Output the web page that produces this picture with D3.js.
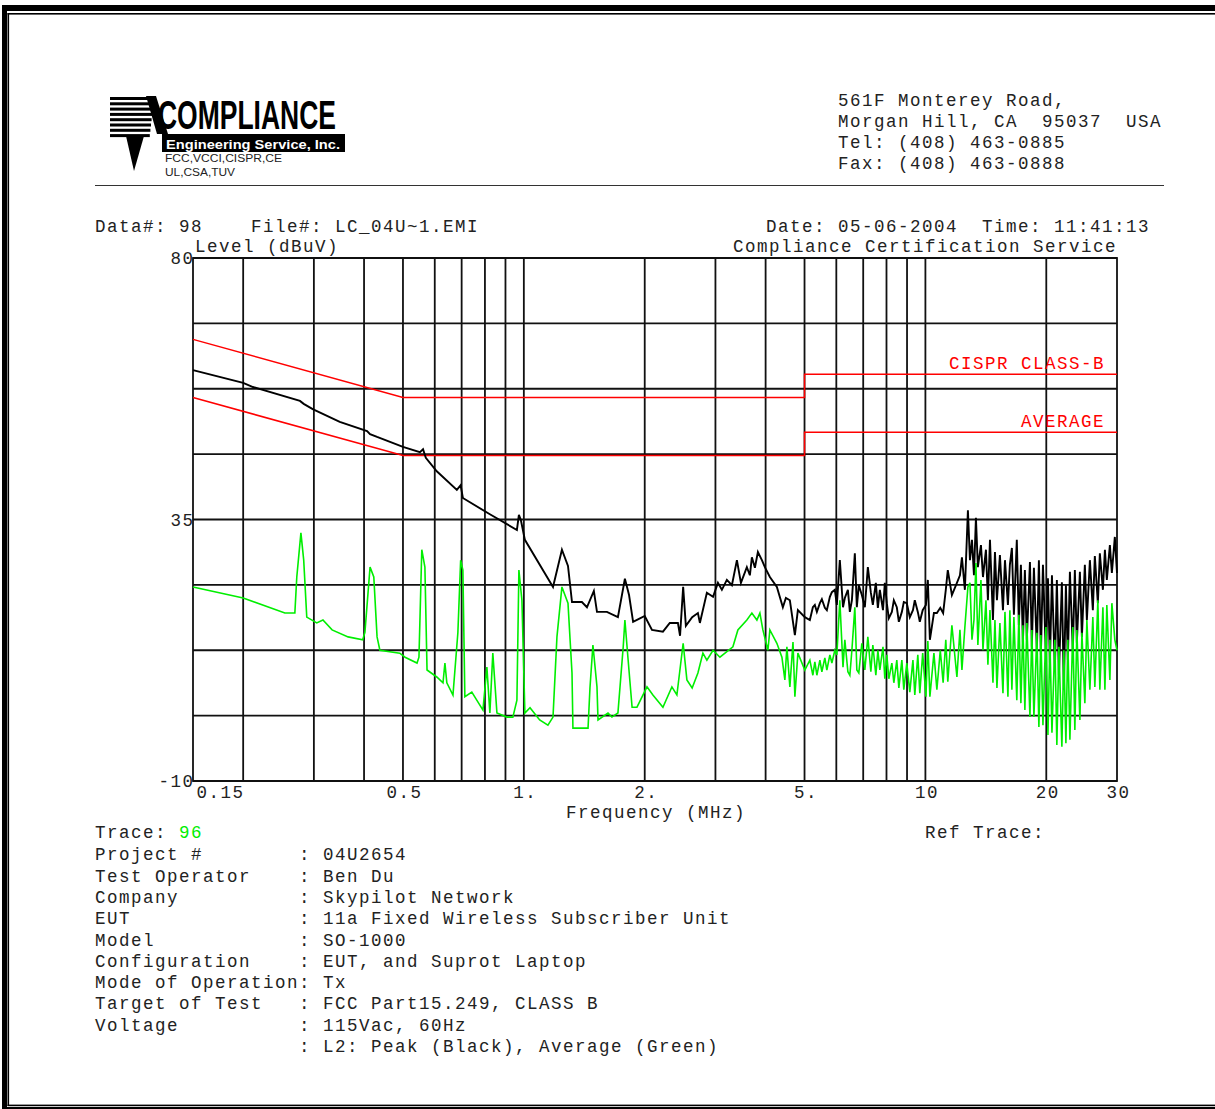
<!DOCTYPE html>
<html><head><meta charset="utf-8">
<script src="https://cdn.jsdelivr.net/npm/d3@7"></script>
<style>html,body{margin:0;padding:0;background:#fff;overflow:hidden}svg{display:block}
.mono{font-family:"Liberation Mono",monospace;font-size:17.5px;letter-spacing:1.5px;white-space:pre;fill:#222}</style>
</head><body><svg id="c" width="1215" height="1109"></svg>
<script>
// ---------------- DATA ----------------
const yTickValues = [80, 35, -10];
const xTickValues = [0.15, 0.5, 1, 2, 5, 10, 20, 30];
const xTickLabels = ["0.15", "0.5", "1.", "2.", "5.", "10", "20", "30"];
const xGridValues = [0.2,0.3,0.4,0.5,0.6,0.7,0.8,0.9,1,2,3,4,5,6,7,8,9,10,20];
const qpLimit  = [[0.15,66],[0.5,56],[5,56],[5,60],[30,60]];
const avgLimit = [[0.15,56],[0.5,46],[5,46],[5,50],[30,50]];
const peakTrace = [[0.150,60.7],[0.200,58.5],[0.2116,57.8],[0.277,55.4],[0.283,54.9],[0.298,54.0],[0.348,51.8],[0.407,50.2],[0.414,49.7],[0.431,49.2],[0.500,47.5],[0.551,46.6],[0.561,47.1],[0.570,45.6],[0.607,43.3],[0.681,40.1],[0.696,40.9],[0.705,38.7],[0.823,35.9],[0.961,33.2],[0.972,35.8],[0.983,34.9],[1.006,31.5],[1.182,23.4],[1.244,29.8],[1.288,27.0],[1.318,20.8],[1.395,20.8],[1.436,19.9],[1.494,22.7],[1.521,19.1],[1.610,19.1],[1.715,18.2],[1.785,24.8],[1.828,22.0],[1.871,17.4],[1.946,18.0],[2.000,18.4],[2.085,16.0],[2.220,15.7],[2.309,17.2],[2.419,17.2],[2.449,15.0],[2.493,23.4],[2.532,16.7],[2.625,18.2],[2.713,18.9],[2.744,17.2],[2.856,22.4],[2.959,21.7],[3.043,24.1],[3.113,22.9],[3.203,24.6],[3.297,23.7],[3.393,28.0],[3.472,24.1],[3.592,26.8],[3.655,25.4],[3.697,28.5],[3.762,26.7],[3.827,29.4],[3.916,28.0],[3.983,26.8],[4.099,25.1],[4.267,23.4],[4.416,19.9],[4.493,21.5],[4.597,21.1],[4.731,15.1],[4.813,19.4],[5.009,18.2],[5.155,17.7],[5.245,19.9],[5.305,20.3],[5.367,19.1],[5.460,20.6],[5.523,21.3],[5.618,19.8],[5.683,19.4],[5.782,21.7],[5.849,22.5],[5.949,22.9],[6.018,20.3],[6.122,28.0],[6.234,19.9],[6.300,21.5],[6.411,22.9],[6.484,19.1],[6.560,21.1],[6.672,29.2],[6.749,19.9],[6.826,23.7],[6.946,22.0],[7.066,19.9],[7.189,26.8],[7.314,22.4],[7.398,20.3],[7.526,24.1],[7.614,19.8],[7.701,22.9],[7.840,19.4],[7.924,24.1],[8.015,20.6],[8.108,18.0],[8.250,19.1],[8.344,21.1],[8.488,19.9],[8.588,17.4],[8.737,19.1],[8.835,20.8],[8.988,20.6],[9.144,18.2],[9.310,19.4],[9.410,21.1],[9.574,19.1],[9.684,17.4],[9.846,19.4],[10.03,20.3],[10.14,24.6],[10.26,14.3],[10.50,18.9],[10.68,18.9],[10.89,19.8],[11.07,18.9],[11.24,22.9],[11.37,26.3],[11.64,22.0],[11.98,24.1],[12.19,25.4],[12.33,28.5],[12.54,22.9],[12.76,36.6],[12.91,28.0],[13.06,31.5],[13.21,25.4],[13.36,35.3],[13.51,26.8],[13.75,30.6],[13.91,25.1],[14.15,29.8],[14.31,21.1],[14.48,31.5],[14.73,17.7],[14.90,29.4],[15.07,21.1],[15.33,28.9],[15.60,19.4],[15.78,28.0],[16.05,20.3],[16.23,27.2],[16.42,30.1],[16.61,18.6],[16.89,31.5],[17.09,16.8],[17.29,27.2],[17.49,13.8],[17.69,26.3],[17.89,14.3],[18.21,27.7],[18.41,13.1],[18.63,26.7],[18.95,12.5],[19.17,28.0],[19.39,11.7],[19.62,27.2],[19.96,11.3],[20.19,24.9],[20.42,10.3],[20.66,25.4],[21.01,9.1],[21.25,24.6],[21.50,8.2],[21.87,24.2],[22.12,5.7],[22.38,23.7],[22.63,10.8],[22.90,26.0],[23.29,12.5],[23.56,26.3],[23.83,13.8],[24.25,26.0],[24.53,14.8],[24.95,27.2],[25.24,17.7],[25.68,28.0],[26.12,19.4],[26.42,28.7],[26.88,20.6],[27.19,29.2],[27.67,22.9],[27.99,29.8],[28.30,24.6],[28.80,30.6],[29.13,25.8],[29.63,32.0],[30.0,25.8]];
const avgTrace = [[0.150,23.4],[0.200,21.5],[0.254,18.9],[0.269,18.9],[0.272,25.1],[0.2785,32.7],[0.283,28.0],[0.288,18.2],[0.305,17.2],[0.316,17.7],[0.333,16.0],[0.365,14.8],[0.397,14.3],[0.402,15.6],[0.414,26.8],[0.423,25.1],[0.431,14.8],[0.438,12.5],[0.491,12.0],[0.506,11.3],[0.542,10.3],[0.548,11.3],[0.557,29.8],[0.567,26.8],[0.574,9.1],[0.607,7.9],[0.629,6.9],[0.636,10.3],[0.643,6.9],[0.666,4.8],[0.685,15.5],[0.696,28.0],[0.705,26.3],[0.713,4.5],[0.742,5.3],[0.791,2.2],[0.809,9.6],[0.823,1.7],[0.837,12.0],[0.857,1.7],[0.907,1.0],[0.939,1.0],[0.961,3.9],[0.972,26.3],[0.989,21.1],[1.006,1.7],[1.036,2.6],[1.095,0.5],[1.148,-0.4],[1.182,1.0],[1.209,14.8],[1.244,23.4],[1.288,20.6],[1.318,8.6],[1.325,-0.9],[1.445,-0.9],[1.461,6.0],[1.486,13.4],[1.521,6.2],[1.530,0.5],[1.620,1.7],[1.657,1.0],[1.715,1.7],[1.768,13.1],[1.785,17.7],[1.816,11.3],[1.860,2.7],[1.913,2.7],[2.026,6.2],[2.096,4.8],[2.220,2.7],[2.337,6.2],[2.405,4.8],[2.493,13.7],[2.547,7.4],[2.625,6.0],[2.713,8.6],[2.792,12.0],[2.856,10.8],[2.959,12.5],[3.078,11.3],[3.316,13.1],[3.412,16.0],[3.592,17.7],[3.697,18.9],[3.805,17.7],[3.871,18.9],[3.938,16.0],[4.053,12.5],[4.099,16.0],[4.267,13.7],[4.392,11.3],[4.467,7.4],[4.519,13.1],[4.597,6.2],[4.680,13.9],[4.731,4.5],[4.813,12.0],[5.009,9.1],[5.155,10.8],[5.245,8.2],[5.305,10.5],[5.367,8.2],[5.460,10.8],[5.523,8.8],[5.618,11.2],[5.683,9.1],[5.782,11.7],[5.849,10.3],[5.949,12.5],[6.018,11.7],[6.122,21.1],[6.234,9.6],[6.300,14.3],[6.411,8.8],[6.484,8.2],[6.560,12.5],[6.672,19.9],[6.749,9.1],[6.826,8.6],[6.946,13.7],[7.066,9.1],[7.189,14.8],[7.314,8.8],[7.398,13.4],[7.526,8.2],[7.614,12.5],[7.701,9.1],[7.840,13.1],[7.924,7.6],[8.015,11.7],[8.108,7.6],[8.250,10.3],[8.344,6.9],[8.488,10.8],[8.588,6.0],[8.737,10.8],[8.835,5.7],[8.988,10.3],[9.144,5.3],[9.310,10.8],[9.410,4.8],[9.574,11.7],[9.684,5.1],[9.846,12.0],[10.03,4.5],[10.14,14.1],[10.26,4.5],[10.50,12.0],[10.68,5.7],[10.89,12.5],[11.07,6.9],[11.24,14.3],[11.37,7.1],[11.64,16.8],[11.98,7.9],[12.19,16.0],[12.33,9.1],[12.54,16.5],[12.76,23.4],[12.91,24.1],[13.06,14.3],[13.21,17.7],[13.36,27.5],[13.51,13.4],[13.75,24.6],[13.91,12.5],[14.15,21.1],[14.31,10.0],[14.48,19.4],[14.73,6.9],[14.90,17.7],[15.07,6.0],[15.33,17.2],[15.60,5.1],[15.78,19.1],[16.05,4.5],[16.23,19.4],[16.42,5.7],[16.61,18.2],[16.89,3.9],[17.09,18.6],[17.29,3.4],[17.49,16.8],[17.69,2.2],[17.89,17.2],[18.21,1.0],[18.41,16.0],[18.63,1.0],[18.95,15.5],[19.17,-0.7],[19.39,15.1],[19.62,-0.4],[19.96,16.5],[20.19,-2.1],[20.42,14.3],[20.66,-1.7],[21.01,14.3],[21.25,-3.8],[21.50,13.1],[21.87,-4.1],[22.12,12.5],[22.38,-3.5],[22.63,14.3],[22.90,-2.9],[23.29,16.5],[23.56,-1.2],[23.83,16.0],[24.25,0.5],[24.53,15.5],[24.95,3.4],[25.24,17.7],[25.68,5.7],[26.12,18.2],[26.42,6.2],[26.88,21.1],[27.19,5.7],[27.67,19.9],[27.99,5.7],[28.30,20.3],[28.80,7.4],[29.13,20.6],[29.63,14.3],[30.0,12.5]];
const addressLines = ["561F Monterey Road,", "Morgan Hill, CA  95037  USA", "Tel: (408) 463-0885", "Fax: (408) 463-0888"];
const infoLabels = ["Project #", "Test Operator", "Company", "EUT", "Model", "Configuration", "Mode of Operation", "Target of Test", "Voltage", ""];
const infoValues = ["04U2654", "Ben Du", "Skypilot Network", "11a Fixed Wireless Subscriber Unit", "SO-1000", "EUT, and Suprot Laptop", "Tx", "FCC Part15.249, CLASS B", "115Vac, 60Hz", "L2: Peak (Black), Average (Green)"];
const certLines = ["FCC,VCCI,CISPR,CE", "UL,CSA,TUV"];

// ---------------- DRAW ----------------
const svg = d3.select("#c");
const L = 193, R = 1117, T = 258, B = 781;
const x = d3.scaleLog().domain([0.15, 30]).range([L, R]);
const y = d3.scaleLinear().domain([-10, 80]).range([B, T]);

// page frame
svg.append("rect").attr("x",2).attr("y",5).attr("width",5).attr("height",1110).attr("fill","#000");
svg.append("rect").attr("x",2).attr("y",5).attr("width",1220).attr("height",6).attr("fill","#000");
svg.append("rect").attr("x",2).attr("y",1107).attr("width",1220).attr("height",6).attr("fill","#000");
svg.append("rect").attr("x",7.5).attr("y",13).attr("width",1.6).attr("height",1093).attr("fill","#000");
svg.append("rect").attr("x",7.5).attr("y",13).attr("width",1215).attr("height",1.6).attr("fill","#000");
svg.append("rect").attr("x",7.5).attr("y",1104.6).attr("width",1215).attr("height",1.6).attr("fill","#000");

// logo
const logo = svg.append("g");
for (let i = 0; i < 8; i++) {
  logo.append("rect").attr("x",110).attr("y",97 + i*5.3).attr("width",44 - i*0.6).attr("height",3).attr("fill","#000");
}
logo.append("path").attr("d","M146,96 L156,96 L168,134 L157,134 Z").attr("fill","#000");
logo.append("path").attr("d","M126,136 L144,136 L134,171 Z").attr("fill","#000");
logo.append("text").attr("x",158).attr("y",129).attr("textLength",178).attr("lengthAdjust","spacingAndGlyphs")
  .attr("font-family","'Liberation Sans Narrow','Liberation Sans',Arial,sans-serif").attr("font-weight","bold")
  .attr("font-size",40).attr("fill","#000").text("COMPLIANCE");
logo.append("rect").attr("x",162).attr("y",134).attr("width",183).attr("height",18).attr("fill","#000");
logo.append("text").attr("x",166).attr("y",148.5).attr("textLength",174).attr("lengthAdjust","spacingAndGlyphs")
  .attr("font-family","'Liberation Sans',Arial,sans-serif").attr("font-weight","bold")
  .attr("font-size",12.5).attr("fill","#fff").text("Engineering Service, Inc.");
logo.selectAll("text.cert").data(certLines).join("text").attr("class","cert")
  .attr("x",165).attr("y",(d,i)=>162 + i*14).attr("font-family","'Liberation Sans',Arial,sans-serif")
  .attr("textLength",(d,i)=> i===0 ? 117 : 70).attr("lengthAdjust","spacingAndGlyphs")
  .attr("font-size",10).attr("fill","#222").text(d=>d);

// address
svg.selectAll("text.addr").data(addressLines).join("text").attr("class","addr mono")
  .attr("x",838).attr("y",(d,i)=>106 + i*21).text(d=>d);
svg.append("line").attr("x1",95).attr("x2",1164).attr("y1",185.5).attr("y2",185.5).attr("stroke","#333").attr("stroke-width",1.2);

// headers
svg.append("text").attr("class","mono").attr("x",95).attr("y",232).text("Data#: 98    File#: LC_04U~1.EMI");
svg.append("text").attr("class","mono").attr("x",766).attr("y",232).text("Date: 05-06-2004  Time: 11:41:13");
svg.append("text").attr("class","mono").attr("x",195).attr("y",252).text("Level (dBuV)");
svg.append("text").attr("class","mono").attr("x",733).attr("y",252).text("Compliance Certification Service");

// grid
const grid = svg.append("g").attr("stroke","#111").attr("stroke-width",1.8);
grid.selectAll("line.h").data(d3.range(-10, 80.01, 11.25)).join("line").attr("class","h")
  .attr("x1",L).attr("x2",R).attr("y1",d=>y(d)).attr("y2",d=>y(d));
grid.selectAll("line.v").data(xGridValues).join("line").attr("class","v")
  .attr("x1",d=>x(d)).attr("x2",d=>x(d)).attr("y1",T).attr("y2",B);
svg.append("rect").attr("x",L).attr("y",T).attr("width",R-L).attr("height",B-T)
  .attr("fill","none").attr("stroke","#111").attr("stroke-width",1.8);

// limits
const line = d3.line().x(d=>x(d[0])).y(d=>y(d[1]));
[qpLimit, avgLimit].forEach(l => svg.append("path").attr("d", line(l)).attr("fill","none")
  .attr("stroke","#ff0000").attr("stroke-width",1.5));
svg.append("text").attr("class","mono").attr("x",949).attr("y",369).style("fill","#ff0000").text("CISPR CLASS-B");
svg.append("text").attr("class","mono").attr("x",1021).attr("y",427).style("fill","#ff0000").text("AVERAGE");

// traces
svg.append("path").attr("d", line(peakTrace)).attr("fill","none").attr("stroke","#000")
  .attr("stroke-width",1.9).attr("stroke-linejoin","miter");
svg.append("path").attr("d", line(avgTrace)).attr("fill","none").attr("stroke","#00ee00")
  .attr("stroke-width",1.6).attr("stroke-linejoin","miter");

// axes
const xa = svg.append("g").attr("transform",`translate(0,798)`)
  .call(d3.axisBottom(x).tickValues(xTickValues).tickFormat((d,i)=>xTickLabels[i]).tickSize(0));
xa.select(".domain").remove();
xa.selectAll("text").attr("class","mono").attr("y",0).attr("dy",null).attr("fill",null);
xa.selectAll("text").filter((d,i)=>i===0).attr("text-anchor","start").attr("x",3);
xa.selectAll("text").filter((d,i)=>i>0).attr("x",1);

const ya = svg.append("g").attr("transform",`translate(${L},0)`)
  .call(d3.axisLeft(y).tickValues(yTickValues).tickFormat(d=>String(d)).tickSize(0).tickPadding(0));
ya.select(".domain").remove();
ya.selectAll("text").attr("class","mono").attr("x",1.5).attr("dy","0.33em").attr("fill",null);

svg.append("text").attr("class","mono").attr("x",566).attr("y",818).text("Frequency (MHz)");

// footer
const tr = svg.append("text").attr("class","mono").attr("x",95).attr("y",838);
tr.append("tspan").text("Trace: ");
tr.append("tspan").style("fill","#00ee00").text("96");
svg.append("text").attr("class","mono").attr("x",925).attr("y",838).text("Ref Trace:");
svg.selectAll("text.info").data(infoLabels).join("text").attr("class","info mono")
  .attr("x",95).attr("y",(d,i)=>860.3 + i*21.3)
  .text((d,i)=> d.padEnd(17," ") + ": " + infoValues[i]);
</script></body></html>
